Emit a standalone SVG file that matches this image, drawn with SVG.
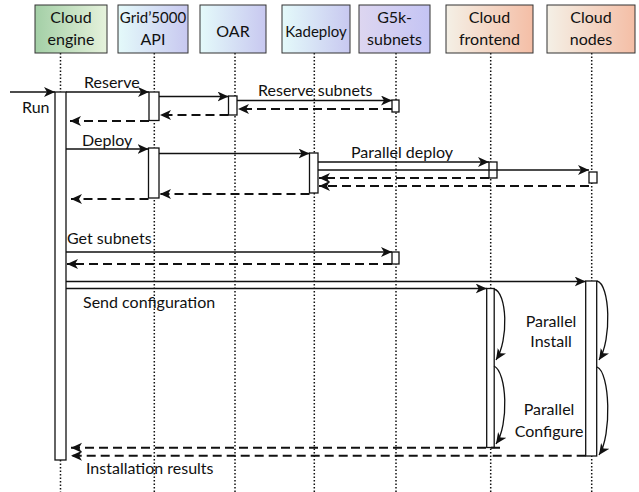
<svg xmlns="http://www.w3.org/2000/svg" width="639" height="492" viewBox="0 0 639 492">
<style>
.box{stroke:#333;stroke-width:1}
.ht{font-family:Lato,"Liberation Sans",sans-serif;font-size:16px;fill:#111;text-anchor:middle}
.lb{font-family:Lato,"Liberation Sans",sans-serif;font-size:16px;fill:#111}
.life{stroke:#111;stroke-width:1.5;stroke-dasharray:1.5,2;fill:none}
.act{fill:#fff;stroke:#111;stroke-width:1.3}
.msg{stroke:#111;stroke-width:1.6;fill:none;marker-end:url(#ah)}
.ret{stroke:#111;stroke-width:2;stroke-dasharray:9,5;fill:none;marker-end:url(#ah)}
.self{stroke:#111;stroke-width:1.3;fill:none;marker-end:url(#ah)}
</style>
<defs>
<linearGradient id="gGreen" x1="0" x2="1" y1="0" y2="0"><stop offset="0" stop-color="#a3cfa6"/><stop offset="1" stop-color="#e6f2dc"/></linearGradient>
<linearGradient id="gBlue" x1="0" x2="1" y1="0" y2="0"><stop offset="0" stop-color="#e4fafa"/><stop offset="1" stop-color="#c8c8f0"/></linearGradient>
<linearGradient id="gPurple" x1="0" x2="1" y1="0" y2="0"><stop offset="0" stop-color="#ddd6f0"/><stop offset="1" stop-color="#c4c4f4"/></linearGradient>
<linearGradient id="gSalmon" x1="0" x2="1" y1="0" y2="0"><stop offset="0" stop-color="#f4f0e6"/><stop offset="1" stop-color="#f4bea6"/></linearGradient>
<marker id="ah" markerUnits="userSpaceOnUse" markerWidth="13" markerHeight="11" refX="11" refY="5" orient="auto" viewBox="0 0 13 11">
<path d="M0,0 L11,5 L0,10 L3,5 Z" fill="#111"/>
</marker>
</defs>

<g id="lifelines">
<line class="life" x1="60.5" y1="53" x2="60.5" y2="92"/>
<line class="life" x1="60.5" y1="460" x2="60.5" y2="492"/>
<line class="life" x1="154.3" y1="53" x2="154.3" y2="492"/>
<line class="life" x1="235" y1="53" x2="235" y2="492"/>
<line class="life" x1="314.3" y1="53" x2="314.3" y2="492"/>
<line class="life" x1="396" y1="53" x2="396" y2="492"/>
<line class="life" x1="490.7" y1="53" x2="490.7" y2="492"/>
<line class="life" x1="591.7" y1="53" x2="591.7" y2="492"/>
</g>

<g id="node-cloud-engine">
<rect class="box" x="35" y="5" width="72" height="48" fill="url(#gGreen)"/>
<text class="ht" x="71" y="23">Cloud</text>
<text class="ht" x="71" y="45">engine</text>
</g>
<g id="node-grid5000-api">
<rect class="box" x="118" y="5" width="70" height="48" fill="url(#gBlue)"/>
<text class="ht" x="153" y="23" style="font-size:15px">Grid’5000</text>
<text class="ht" x="153" y="45">API</text>
</g>
<g id="node-oar">
<rect class="box" x="200" y="5" width="66" height="48" fill="url(#gBlue)"/>
<text class="ht" x="233" y="37">OAR</text>
</g>
<g id="node-kadeploy">
<rect class="box" x="282" y="5" width="68" height="48" fill="url(#gBlue)"/>
<text class="ht" x="316" y="37" style="font-size:15px">Kadeploy</text>
</g>
<g id="node-g5k-subnets">
<rect class="box" x="359" y="5" width="71" height="48" fill="url(#gPurple)"/>
<text class="ht" x="394.5" y="23">G5k-</text>
<text class="ht" x="394.5" y="45">subnets</text>
</g>
<g id="node-cloud-frontend">
<rect class="box" x="446" y="5" width="87" height="48" fill="url(#gSalmon)"/>
<text class="ht" x="489.5" y="23">Cloud</text>
<text class="ht" x="489.5" y="45">frontend</text>
</g>
<g id="node-cloud-nodes">
<rect class="box" x="547" y="5" width="88" height="48" fill="url(#gSalmon)"/>
<text class="ht" x="591" y="23">Cloud</text>
<text class="ht" x="591" y="45">nodes</text>
</g>

<g id="activations">
<rect class="act" x="55" y="92" width="11" height="368"/>
<rect class="act" x="149" y="92" width="10" height="28.5"/>
<rect class="act" x="228.5" y="96" width="8.5" height="19"/>
<rect class="act" x="392" y="100" width="7" height="12"/>
<rect class="act" x="148.5" y="148" width="10.5" height="50"/>
<rect class="act" x="309.5" y="153" width="8.5" height="40"/>
<rect class="act" x="489" y="162" width="8" height="16"/>
<rect class="act" x="589" y="172" width="8" height="11"/>
<rect class="act" x="392" y="252" width="7" height="12"/>
<rect class="act" x="486.7" y="288.5" width="7.5" height="159"/>
<rect class="act" x="585.7" y="281" width="11" height="175"/>
</g>

<g id="connectors">
<line class="msg" x1="10" y1="92" x2="55" y2="92"/>
<line class="msg" x1="66" y1="92" x2="149" y2="92"/>
<line class="msg" x1="159" y1="96.5" x2="228.5" y2="96.5"/>
<line class="msg" x1="237" y1="100.5" x2="392" y2="100.5"/>
<line class="ret" x1="392" y1="109" x2="238" y2="109"/>
<line class="ret" x1="228.5" y1="115" x2="160" y2="115"/>
<line class="ret" x1="149" y1="121" x2="70" y2="121"/>

<line class="msg" x1="66" y1="149" x2="148.5" y2="149"/>
<line class="msg" x1="159" y1="153.5" x2="309.5" y2="153.5"/>
<line class="msg" x1="318" y1="162" x2="489" y2="162"/>
<line class="msg" x1="318" y1="170" x2="589" y2="170"/>
<line class="ret" x1="489" y1="178" x2="319" y2="178"/>
<line class="ret" x1="589" y1="186" x2="319" y2="186"/>
<line class="ret" x1="309.5" y1="194" x2="160" y2="194"/>
<line class="ret" x1="148.5" y1="199" x2="71" y2="199"/>

<line class="msg" x1="66" y1="252" x2="392" y2="252"/>
<line class="ret" x1="392" y1="264" x2="67" y2="264"/>

<line class="msg" x1="66" y1="281.5" x2="585.7" y2="281.5"/>
<line class="msg" x1="66" y1="288.5" x2="486.7" y2="288.5"/>

<path class="self" d="M494,289 C507,292 509,340 496,360"/>
<path class="self" d="M494,366 C507,372 509,425 496,444"/>
<path class="self" d="M597,281 C610,284 612,340 599,360"/>
<path class="self" d="M597,367 C610,372 612,436 599,455"/>

<line class="ret" x1="500" y1="447.7" x2="71" y2="447.7"/>
<line class="ret" x1="585.7" y1="455.7" x2="71" y2="455.7"/>
</g>

<g id="labels">
<text class="lb" x="22" y="113">Run</text>
<text class="lb" x="84" y="88">Reserve</text>
<text class="lb" x="258" y="96">Reserve subnets</text>
<text class="lb" x="82" y="146">Deploy</text>
<text class="lb" x="351" y="158">Parallel deploy</text>
<text class="lb" x="67" y="244">Get subnets</text>
<text class="lb" x="83" y="308">Send configuration</text>
<text class="lb" x="86" y="474">Installation results</text>
<text class="ht" x="551" y="327">Parallel</text>
<text class="ht" x="551" y="347">Install</text>
<text class="ht" x="549" y="415">Parallel</text>
<text class="ht" x="549" y="437">Configure</text>
</g>
</svg>
